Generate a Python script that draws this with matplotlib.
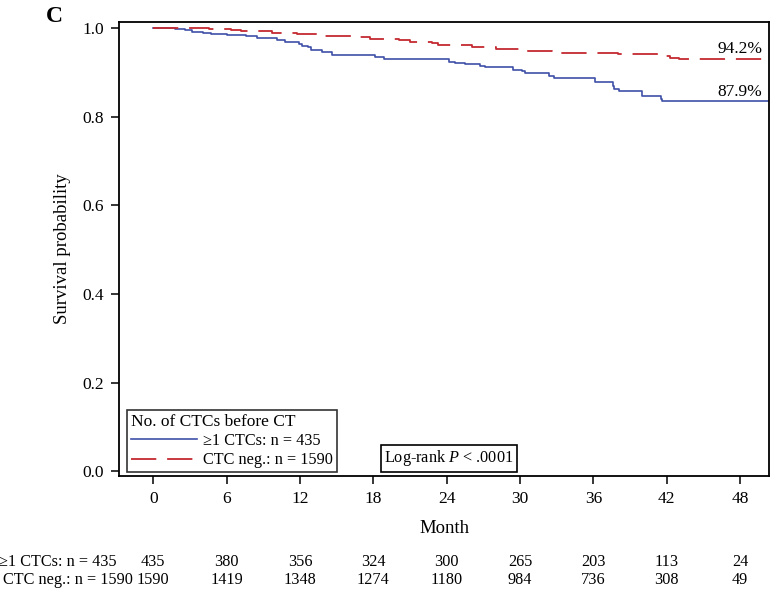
import numpy as np
import matplotlib
matplotlib.use("Agg")
import matplotlib.pyplot as plt
from matplotlib import transforms
from matplotlib.lines import Line2D

plt.rcParams['font.family'] = ['Liberation Serif', 'DejaVu Serif']
plt.rcParams['mathtext.fontset'] = 'custom'
plt.rcParams['mathtext.it'] = 'Liberation Serif:italic'
plt.rcParams['mathtext.rm'] = 'Liberation Serif'

# Kaplan-Meier steps
t_pos = [0, 1.8, 2.6, 3.2, 4.1, 4.7, 6.0, 7.6, 8.5, 10.1, 10.8, 11.9, 12.2, 12.7,
         12.9, 13.8, 14.6, 18.1, 18.9, 24.2, 24.7, 25.5, 26.7, 27.1, 29.4, 30.2,
         30.4, 32.4, 32.8, 36.1, 37.6, 37.7, 38.1, 40.0, 41.5, 41.6, 50.4]
s_pos = [1.0, 0.998, 0.995, 0.992, 0.989, 0.986, 0.985, 0.982, 0.977, 0.973, 0.969,
         0.964, 0.960, 0.957, 0.951, 0.945, 0.940, 0.934, 0.929, 0.924, 0.921, 0.919,
         0.915, 0.912, 0.906, 0.902, 0.898, 0.892, 0.888, 0.879, 0.870, 0.862, 0.857,
         0.847, 0.841, 0.835, 0.835]

t_neg = [0, 4.6, 6.4, 7.2, 9.7, 11.8, 13.5, 14.4, 16.3, 17.7, 20.1, 21.0, 22.8, 23.3,
         26.1, 28.0, 30.4, 32.6, 33.0, 38.0, 41.8, 42.3, 43.0, 50.4]
s_neg = [1.0, 0.998, 0.9955, 0.993, 0.989, 0.9865, 0.983, 0.981, 0.979, 0.975, 0.973,
         0.969, 0.966, 0.962, 0.957, 0.953, 0.949, 0.946, 0.944, 0.941, 0.938, 0.933,
         0.930, 0.930]

months = [0, 6, 12, 18, 24, 30, 36, 42, 48]
risk_pos = [435, 380, 356, 324, 300, 265, 203, 113, 24]
risk_neg = [1590, 1419, 1348, 1274, 1180, 984, 736, 308, 49]
row_labels = ['\u22651 CTCs: n = 435', 'CTC neg.: n = 1590']

blue = '#3f4fa8'
red = '#c42a30'
fs = 12.5
fs_small = 11.7

fig = plt.figure(figsize=(7.71, 5.92), dpi=100)
ax = fig.add_axes([0.1543, 0.196, 0.8437, 0.7668])

ax.step(t_pos, s_pos, where='post', color=blue, lw=1.2)
ax.step(t_neg, s_neg, where='post', color=red, lw=1.3, dashes=(14, 6))

ax.set_xlim(-2.8, 50.4)
ax.set_ylim(-0.0101, 1.0135)
ax.set_xticks(months)
ax.set_yticks([0.0, 0.2, 0.4, 0.6, 0.8, 1.0])
ax.set_yticklabels(['0.0', '0.2', '0.4', '0.6', '0.8', '1.0'])
ax.tick_params(direction='out', length=6, width=1.1, labelsize=fs, pad=5)
for sp in ax.spines.values():
    sp.set_linewidth(1.3)
ax.set_ylabel('Survival probability', fontsize=13.5, labelpad=8)

ax.text(49.8, 0.953, '94.2%', ha='right', va='center', fontsize=fs)
ax.text(49.8, 0.855, '87.9%', ha='right', va='center', fontsize=fs)

handles = [Line2D([], [], color=blue, lw=1.2),
           Line2D([], [], color=red, lw=1.3, dashes=(14, 6))]
leg = ax.legend(handles, row_labels, title='No. of CTCs before CT', loc='lower left',
                bbox_to_anchor=(0.012, 0.008), fontsize=fs_small, title_fontsize=12.5,
                frameon=True, fancybox=False, edgecolor='black', handlelength=4.1,
                handletextpad=0.35, borderpad=0.25, labelspacing=0.2, borderaxespad=0)
leg._legend_box.align = 'left'
leg.get_frame().set_linewidth(1.2)

ax.text(29.5, 0.007, 'Log-rank $P$ < .0001', ha='right', va='bottom', fontsize=fs_small,
        bbox=dict(boxstyle='square,pad=0.2', fc='white', ec='black', lw=1.2))

fig.text(0.577, 0.108, 'Month', ha='center', va='center', fontsize=13.5)
fig.text(0.059, 0.972, 'C', ha='left', va='center', fontsize=17, fontweight='bold')

# numbers at risk
tr = transforms.blended_transform_factory(ax.transData, fig.transFigure)
for m, a, b in zip(months, risk_pos, risk_neg):
    ax.text(m, 0.0505, str(a), transform=tr, ha='center', va='center', fontsize=fs_small)
    ax.text(m, 0.0205, str(b), transform=tr, ha='center', va='center', fontsize=fs_small)
fig.text(-0.001, 0.0505, row_labels[0], ha='left', va='center', fontsize=fs_small)
fig.text(0.004, 0.0205, row_labels[1], ha='left', va='center', fontsize=fs_small)

fig.savefig('out.png', dpi=100)
